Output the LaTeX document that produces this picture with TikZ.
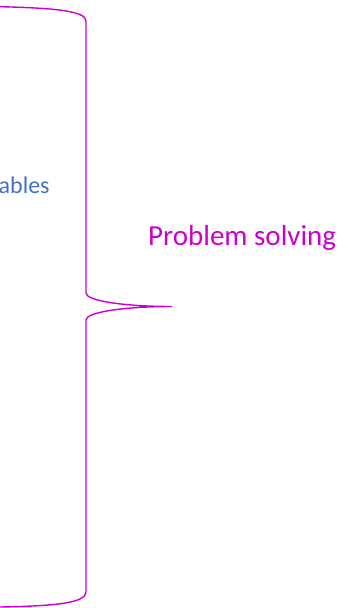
\documentclass[tikz,border=0pt]{standalone}
\usepackage{fontspec}
\setmainfont{Carlito}
\usetikzlibrary{calc}
\definecolor{bracepink}{RGB}{204,0,204}
\definecolor{labelblue}{RGB}{68,114,196}
\tikzset{
  brace/.style={bracepink, line width=1.4pt},
  lbl/.style={anchor=base west, inner sep=0pt}
}

\begin{document}
\begin{tikzpicture}[x=1pt,y=-1pt]
    \useasboundingbox (0,0) rectangle (350,608);
    \coordinate (top) at (0,6.7);
    \coordinate (upper) at (86,21);
    \coordinate (midA) at (86,293);
    \coordinate (tip) at (172,306.5);
    \coordinate (midB) at (86,320);
    \coordinate (lower) at (86,592);
    \coordinate (bottom) at (0,607);
    % the big brace
    \draw[brace] (top) .. controls (55,8) and (86,11) .. (upper) -- (midA)
        .. controls (86,301) and (125,306.5) .. (tip)
        .. controls (125,306.5) and (86,312) .. (midB) -- (lower)
        .. controls (86,603) and (55,606) .. (bottom);
    \node[lbl, labelblue, font=\fontsize{24}{28}\selectfont] (vars) at (-1.5,193) {ables};
    \node[lbl, bracepink, font=\fontsize{29}{34}\selectfont] (solving) at (148,245) {Problem solving};
\end{tikzpicture}
\end{document}
